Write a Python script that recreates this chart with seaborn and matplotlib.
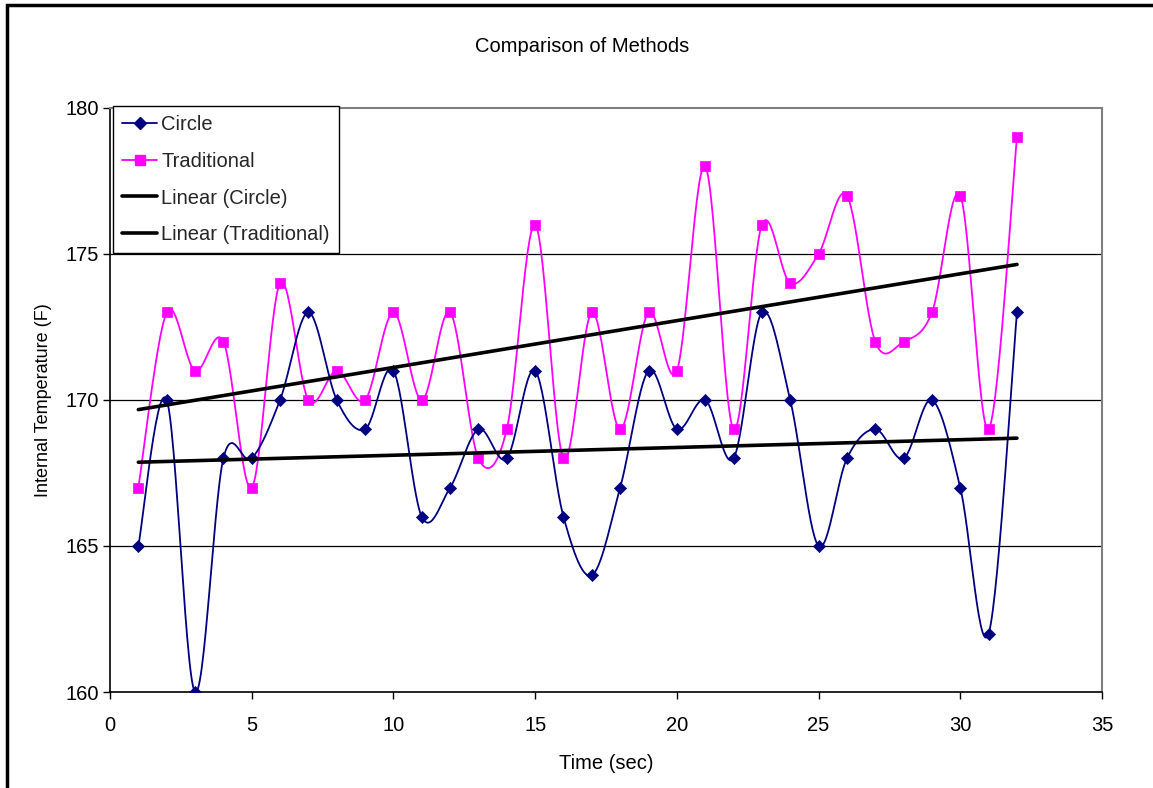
import numpy as np
import pandas as pd
import matplotlib
matplotlib.use("Agg")
import matplotlib.pyplot as plt
from matplotlib.lines import Line2D
from matplotlib.patches import Rectangle
import seaborn as sns

# Measurements
time_sec = list(range(1, 33))
circle = [165, 170, 160, 168, 168, 170, 173, 170, 169, 171, 166, 167, 169, 168, 171, 166,
          164, 167, 171, 169, 170, 168, 173, 170, 165, 168, 169, 168, 170, 167, 162, 173]
traditional = [167, 173, 171, 172, 167, 174, 170, 171, 170, 173, 170, 173, 168, 169, 176, 168,
               173, 169, 173, 171, 178, 169, 176, 174, 175, 177, 172, 172, 173, 177, 169, 179]

x_ticks = [0, 5, 10, 15, 20, 25, 30, 35]
y_ticks = [160, 165, 170, 175, 180]

NAVY = "#000080"
MAGENTA = "#FF00FF"
FS = 14.5


def smooth_curve(xs, ys, n=30):
    """Cubic Bezier smoothing through every point (Catmull-Rom style tangents)."""
    p = np.column_stack([xs, ys]).astype(float)
    pad = np.vstack([p[0], p, p[-1]])
    out = []
    t = np.linspace(0, 1, n)[:, None]
    for i in range(len(p) - 1):
        p0, p1, p2, p3 = pad[i], pad[i + 1], pad[i + 2], pad[i + 3]
        c1 = p1 + (p2 - p0) / 6.0
        c2 = p2 - (p3 - p1) / 6.0
        seg = ((1 - t) ** 3) * p1 + 3 * ((1 - t) ** 2) * t * c1 + 3 * (1 - t) * t ** 2 * c2 + t ** 3 * p2
        out.append(seg if i == 0 else seg[1:])
    out = np.vstack(out)
    return out[:, 0], out[:, 1]


sns.set_theme(style="white")
plt.rcParams["font.family"] = ["Liberation Sans", "DejaVu Sans"]
plt.rcParams["font.size"] = FS

fig = plt.figure(figsize=(11.53, 7.88), dpi=100)
ax = fig.add_axes([110 / 1153, (788 - 692) / 788, 992 / 1153, 584 / 788])

df = pd.DataFrame({"time": time_sec, "circle": circle, "traditional": traditional})

# Horizontal gridlines
for yv in y_ticks[1:-1]:
    ax.axhline(yv, color="black", lw=0.9, zorder=0)

# Smoothed series
for col, color in [("traditional", MAGENTA), ("circle", NAVY)]:
    sx, sy = smooth_curve(df["time"], df[col])
    sns.lineplot(x=sx, y=sy, sort=False, color=color, lw=1.3, ax=ax, zorder=2)

sns.scatterplot(data=df, x="time", y="traditional", marker="s", s=55, color=MAGENTA,
                edgecolor=MAGENTA, linewidth=0.5, ax=ax, zorder=3)
sns.scatterplot(data=df, x="time", y="circle", marker="D", s=38, color=NAVY,
                edgecolor=NAVY, linewidth=0.5, ax=ax, zorder=3)

# Linear trendlines
for col in ["circle", "traditional"]:
    sns.regplot(data=df, x="time", y=col, scatter=False, ci=None, truncate=True,
                line_kws={"color": "black", "lw": 2.6, "zorder": 4}, ax=ax)

ax.set_xlim(0, 35)
ax.set_ylim(160, 180)
ax.set_xticks(x_ticks)
ax.set_yticks(y_ticks)
ax.set_xticklabels([str(v) for v in x_ticks], fontsize=FS)
ax.set_yticklabels([str(v) for v in y_ticks], fontsize=FS)
ax.tick_params(axis="x", direction="out", length=5, width=1, color="black",
               bottom=True, pad=12, labelcolor="black")
ax.tick_params(axis="y", direction="out", length=5, width=1, color="black",
               left=True, pad=3, labelcolor="black")

ax.set_xlabel("Time (sec)", fontsize=FS, color="black", labelpad=14)
ax.set_ylabel("Internal Temperature (F)", fontsize=13, color="black", labelpad=10)

for side in ["left", "bottom"]:
    ax.spines[side].set_color("black")
    ax.spines[side].set_linewidth(1.2)
for side in ["top", "right"]:
    ax.spines[side].set_color("#808080")
    ax.spines[side].set_linewidth(1.5)
ax.set_facecolor("white")

handles = [
    Line2D([], [], color=NAVY, marker="D", markersize=6, lw=1.3),
    Line2D([], [], color=MAGENTA, marker="s", markersize=7, lw=1.3),
    Line2D([], [], color="black", lw=2.6),
    Line2D([], [], color="black", lw=2.6),
]
labels = ["Circle", "Traditional", "Linear (Circle)", "Linear (Traditional)"]
leg = ax.legend(handles, labels, loc="upper left", bbox_to_anchor=(113 / 1153, 1 - 106 / 788),
                bbox_transform=fig.transFigure, fontsize=FS, frameon=True, fancybox=False,
                edgecolor="black", framealpha=1, borderpad=0.45, labelspacing=0.88,
                handlelength=1.75, handletextpad=0.2, borderaxespad=0)
leg.get_frame().set_linewidth(1.0)
leg.set_zorder(10)

# Outer chart border
fig.patches.append(Rectangle((7 / 1153, -0.05), 1.2, 1 - 5 / 788 + 0.05, transform=fig.transFigure,
                             fill=False, edgecolor="black", lw=2.5, zorder=20))

# Title centred above the plot
fig.text(582 / 1153, 1 - 46 / 788, "Comparison of Methods", ha="center", va="center",
         fontsize=FS, color="black")

fig.savefig("out.png", dpi=100, facecolor="white")
